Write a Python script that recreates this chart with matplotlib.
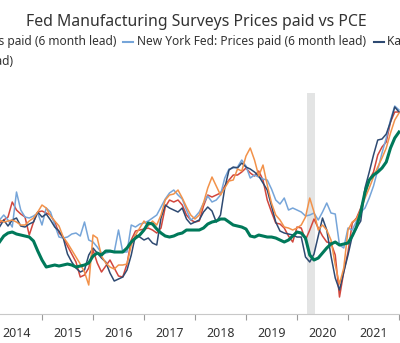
import matplotlib.pyplot as plt

# monthly readings, Mar 2014 .. Jan 2022
start_year = 2014
start_month = 3

philly = [15.5, 17, 18.5, 26, 22, 20, 18.5, 9.5, 16, 21, 21.5, 20.5, 19.5, 16, 10.5, 8.5,
          4, 0, -4, -11.5, -10.5, -7, 2, -4.5, -9, -6, -3, -7, -11, -11.5, -5, 7,
          11.5, 12, 12.5, 13, 12, 10.5, 13, 23.5, 27, 26, 27, 24.5, 19.5, 17, 16, 16.5,
          24, 29.5, 28.5, 29.5, 30.5, 34, 37, 39.5, 39.5, 41, 43, 40.5, 39, 41.5, 37, 27,
          21, 15.5, 15, 13, 9, 6, 13.5, 13, 7, 12, 17.5, 13, 9, 6, 5.5, -0.5,
          -21.5, -9, 1, 15.5, 18, 23, 29.5, 37, 41, 49.5, 53.5, 56, 66, 71, 71]

new_york = [17, 19.5, 17, 13.5, 31, 22, 18.5, 18, 19, 20.5, 14.5, 23, 21, 14.5, 8.5, 8,
            8.5, 10, 10.5, 9, 16, 7, 6, 3.5, 0.5, 0.5, 1, 1, 12, 1, 1, 14.5,
            13.5, 15, 15.5, 16.5, 18, 19.5, 23.5, 27.5, 30.5, 32, 29.5, 27.5, 22, 17, 18.5, 21,
            25.5, 29, 26, 27, 29.5, 38, 42.5, 43, 43.5, 47, 44, 38, 39.5, 38.5, 37.5, 37,
            32.5, 27, 25, 28, 22, 23, 22, 21, 19, 19.5, 20.5, 17, 21, 25.5, 20.5, 20,
            4.5, 3, 13, 12, 16.5, 21, 23, 28, 34, 42, 50.5, 58, 67, 74, 72]

kansas = [13.5, 17, 14, 17, 18, 14, 13.5, 15, 16, 21, 18.5, 20, 17, 13.5, 11.5, 8,
          0, -4, -7, -9, -8, -0.5, 3, 0.5, -2, -4, -9.5, -13.5, -12.5, -11.5, -8, -0.5,
          9.5, 8.5, 7, 8, 5.5, 4.5, 18, 24.5, 23, 22, 21, 23, 17.5, 15, 16, 17,
          21, 23.5, 21.5, 16, 19.5, 33, 42, 43.5, 43, 45.5, 43.5, 42.5, 41, 39, 35.5, 32,
          24, 16, 11.5, 10.5, 10, 9.5, 8.5, 8.5, -1.5, -4, 0, 9, 18, 12, -1, -12,
          -18, -9, -0.5, 9, 13, 16.5, 33, 41, 49.5, 57, 57.5, 60, 66, 73.5, 71]

richmond = [17, 16, 16.5, 17, 16, 14.5, 14.5, 16.5, 18, 21, 24.5, 23, 19, 16.5, 14, 8.5,
            5.5, 2, -1.5, -5, -9, -15.5, 9.5, 8, -1, -4.5, -6.5, -7.5, -5.5, -5.5, -5, 4.5,
            9.5, 13, 16.5, 14, 16.5, 14.5, 19.5, 27, 29.5, 30, 32, 28, 23.5, 19.5, 17.5, 19.5,
            25.5, 33, 38.5, 34, 29.5, 33, 36.5, 37, 42.5, 41.5, 49, 53, 47, 39, 44.5, 34.5,
            25.5, 19.5, 17, 13.5, 13, 12, 13, 14.5, 18.5, 28, 21, 12, 14.5, 12, 7, -5.5,
            -15, -7, 12, 16, 17.5, 22, 28, 33, 38.5, 43.5, 48, 53, 60.5, 67, 70.5]

pce = [6, 9, 10.5, 11, 10, 9.5, 9, 8.5, 6.5, 1.5, -3, -6.5, -6, -5.5, -6, -5.5,
       -5, -5.5, -6.5, -6, -5.5, -4.5, -1, 0.5, -0.5, 1.5, 1.5, 1, 1, 1, 3, 6,
       8, 9.5, 12, 15.5, 15, 12.5, 10.5, 9, 8.5, 9, 10, 10.5, 12, 12, 12, 12,
       13, 15, 16, 16.5, 17.5, 17.5, 16, 14.5, 14, 13.5, 12.5, 9, 8.5, 9.5, 9, 8.5,
       8.5, 8, 7, 6, 7, 9, 11, 10.5, 8, -0.5, -3, -2, 0.5, 3, 5, 6,
       4.5, 5, 5.5, 9, 13.5, 21, 31, 37, 39.5, 41, 43, 46, 53, 58, 61]

years = [2014, 2015, 2016, 2017, 2018, 2019, 2020, 2021]
recession = (2020.19, 2020.35)

months = [start_year + (start_month - 1 + i) / 12 for i in range(len(pce))]

plt.rcParams['font.family'] = ['Noto Sans', 'DejaVu Sans']

fig = plt.figure(figsize=(4.0, 3.43), dpi=100)
ax = fig.add_axes([0, 0.0845, 1, 0.6443])

ax.axvspan(*recession, color='#e3e4e4', lw=0, zorder=0)

ax.plot(months, philly, color='#d2473d', lw=1.1)
ax.plot(months, new_york, color='#76a5d9', lw=1.1)
ax.plot(months, kansas, color='#2e4a72', lw=1.1)
ax.plot(months, richmond, color='#f2924a', lw=1.1)
ax.plot(months, pce, color='#00795a', lw=2.2)

ax.set_xlim(2014.1765, 2022.0196)
ax.set_ylim(-30, 80.5)

ax.set_xticks(years[1:] + [2022])
ax.set_xticklabels([])
ax.set_xticks([y + 0.5 for y in years], minor=True)
ax.set_xticklabels([str(y) for y in years], minor=True)
ax.tick_params(axis='x', which='major', length=4, color='#9a9a9a', width=0.8)
ax.tick_params(axis='x', which='minor', length=0, pad=9, labelsize=9, labelcolor='#333333')
ax.set_yticks([])

for side in ['top', 'left', 'right']:
    ax.spines[side].set_visible(False)
ax.spines['bottom'].set_color('#c8c8c8')
ax.spines['bottom'].set_linewidth(0.8)

fig.text(196 / 400, 1 - 22 / 343, 'Fed Manufacturing Surveys Prices paid vs PCE',
         ha='center', va='center', fontsize=11.4, color='#333333')

# legend row, partly running off both edges
leg_y = 1 - 42 / 343
leg_fs = 8.6
fig.text(117 / 400, leg_y, 'Philadelphia Fed: Prices paid (6 month lead)',
         ha='right', va='center', fontsize=leg_fs, color='#333333')
fig.add_artist(plt.Line2D([123 / 400, 133 / 400], [leg_y, leg_y], color='#76a5d9', lw=1.5))
fig.text(137 / 400, leg_y, 'New York Fed: Prices paid (6 month lead)',
         ha='left', va='center', fontsize=leg_fs, color='#333333')
fig.add_artist(plt.Line2D([374 / 400, 384 / 400], [leg_y, leg_y], color='#2e4a72', lw=1.5))
fig.text(387 / 400, leg_y, 'Kansas City Fed: Prices paid (6 month lead)',
         ha='left', va='center', fontsize=leg_fs, color='#333333')
fig.text(13 / 400, 1 - 62 / 343, 'Richmond Fed: Prices paid (6 month lead)',
         ha='right', va='center', fontsize=leg_fs, color='#333333')

fig.savefig('out.png', dpi=100)
